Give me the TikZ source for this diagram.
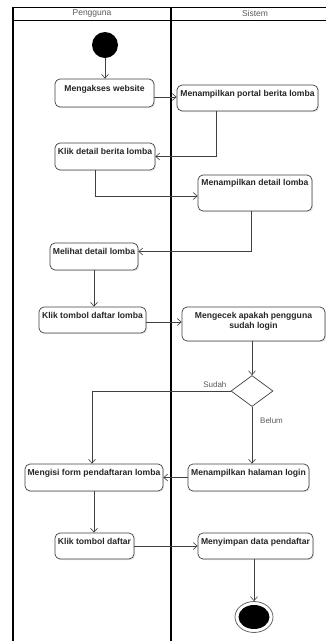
\documentclass[tikz,border=0pt]{standalone}
\usepackage{fontspec}
\setmainfont{Liberation Sans}
\usetikzlibrary{arrows.meta,shapes.geometric,shadows}

\definecolor{edge}{HTML}{404040}
\definecolor{softgray}{HTML}{5A5A5A}

\begin{document}
\begin{tikzpicture}[x=1pt,y=-1pt,
  act/.style={draw=edge, line width=0.7pt, rounded corners=5pt, fill=white,
    drop shadow={shadow xshift=1.2pt, shadow yshift=-1.2pt, opacity=0.18},
    inner sep=0pt},
  acttext/.style={anchor=north, inner sep=0pt, align=center,
    font=\fontsize{8.6}{10}\selectfont\bfseries, text=black!85},
  flow/.style={draw=edge, line width=0.6pt, -{Straight Barb[length=4pt,width=7pt]}},
  lane/.style={line width=1.3pt, black},
  head/.style={font=\fontsize{8.5}{10}\selectfont, text=softgray, inner sep=0pt},
  guard/.style={font=\fontsize{8}{9}\selectfont, text=softgray, inner sep=0pt},
]
\useasboundingbox (0,0) rectangle (326,641);

% swimlanes
\draw[lane] (13,7) -- (13,641);
\draw[lane] (171,7) -- (171,641);
\draw[line width=1pt] (13,7) -- (326,7);
\draw[line width=0.7pt] (13,20) -- (326,20);
\node[head] (h1) at (92,13.5) {Pengguna};
\node[head] (h2) at (255,13.5) {Sistem};

% start and end
\node[circle, fill=black, minimum size=26, inner sep=0pt] (start) at (105,45) {};
\node[ellipse, draw=edge!80, line width=0.8pt, fill=white, minimum width=38,
      minimum height=31, inner sep=0pt] (end) at (254,617) {};
\node[ellipse, fill=black, minimum width=31, minimum height=24, inner sep=0pt] (endc) at (end.center) {};

% activities: user lane
\node[act, minimum width=99, minimum height=28] (a1) at (104.5,93) {};
\node[acttext] (a1t) at ([yshift=-6pt]a1.north) {Mengakses website};
\node[act, minimum width=100, minimum height=27] (a2) at (105,156.5) {};
\node[acttext] (a2t) at ([yshift=-5pt]a2.north) {Klik detail berita lomba};
\node[act, minimum width=88, minimum height=27] (a3) at (94,256.5) {};
\node[acttext] (a3t) at ([yshift=-5pt]a3.north) {Melihat detail lomba};
\node[act, minimum width=107, minimum height=26] (a4) at (92.5,320) {};
\node[acttext] (a4t) at ([yshift=-5pt]a4.north) {Klik tombol daftar lomba};
\node[act, minimum width=138, minimum height=27] (a5) at (94,477.5) {};
\node[acttext] (a5t) at ([yshift=-5pt]a5.north) {Mengisi form pendaftaran lomba};
\node[act, minimum width=79, minimum height=26] (a6) at (94.5,546) {};
\node[acttext] (a6t) at ([yshift=-5pt]a6.north) {Klik tombol daftar};

% activities: system lane
\node[act, minimum width=141, minimum height=26] (s1) at (247.5,98) {};
\node[acttext] (s1t) at ([yshift=-5pt]s1.north) {Menampilkan portal berita lomba};
\node[act, minimum width=114, minimum height=36] (s2) at (255,193) {};
\node[acttext] (s2t) at ([yshift=-4pt]s2.north) {Menampilkan detail lomba};
\node[act, minimum width=143, minimum height=34] (s3) at (253.5,324) {};
\node[acttext] (s3t) at ([yshift=-5pt]s3.north) {Mengecek apakah pengguna\\sudah login};
\node[draw=edge, diamond, line width=0.7pt, fill=white, minimum width=42,
      minimum height=31, inner sep=0pt] (d) at (252,391) {};
\node[act, minimum width=121, minimum height=27] (s4) at (248.5,477.5) {};
\node[acttext] (s4t) at ([yshift=-5pt]s4.north) {Menampilkan halaman login};
\node[act, minimum width=115, minimum height=26] (s5) at (255.5,546) {};
\node[acttext] (s5t) at ([yshift=-5pt]s5.north) {Menyimpan data pendaftar};

% guards
\node[guard, anchor=south east] (gs) at ([xshift=-4pt,yshift=3pt]d.west) {Sudah};
\node[guard, anchor=west] (gb) at ([xshift=8pt,yshift=-14pt]d.south) {Belum};

% control flow
\draw[flow] (start) -- (start |- a1.north);
\draw[flow] ([yshift=-4pt]a1.east) -- ([yshift=-4pt]a1.east -| s1.west);
\draw[flow] ([xshift=40pt]s1.south west) |- (a2.east);
\draw[flow] ([xshift=41pt]a2.south west) |- ([yshift=-3pt]s2.west);
\draw[flow] ([xshift=54pt]s2.south west) |- ([yshift=5pt]a3.east);
\draw[flow] (a3.south) -- (a3.south |- a4.north);
\draw[flow] ([yshift=-2pt]a4.east) -- ([yshift=-2pt]a4.east -| s3.west);
\draw[flow] (s3.south -| d.north) -- (d.north);
\draw[flow] (d.west) -| ([xshift=-2pt]a5.north);
\draw[flow] (d.south) -- (d.south |- s4.north);
\draw[flow] (s4.west) -- (s4.west -| a5.east);
\draw[flow] (a5.south) -- (a5.south |- a6.north);
\draw[flow] (a6.east) -- (a6.east -| s5.west);
\draw[flow] (s5.south -| end.north) -- (end.north);
\end{tikzpicture}
\end{document}
